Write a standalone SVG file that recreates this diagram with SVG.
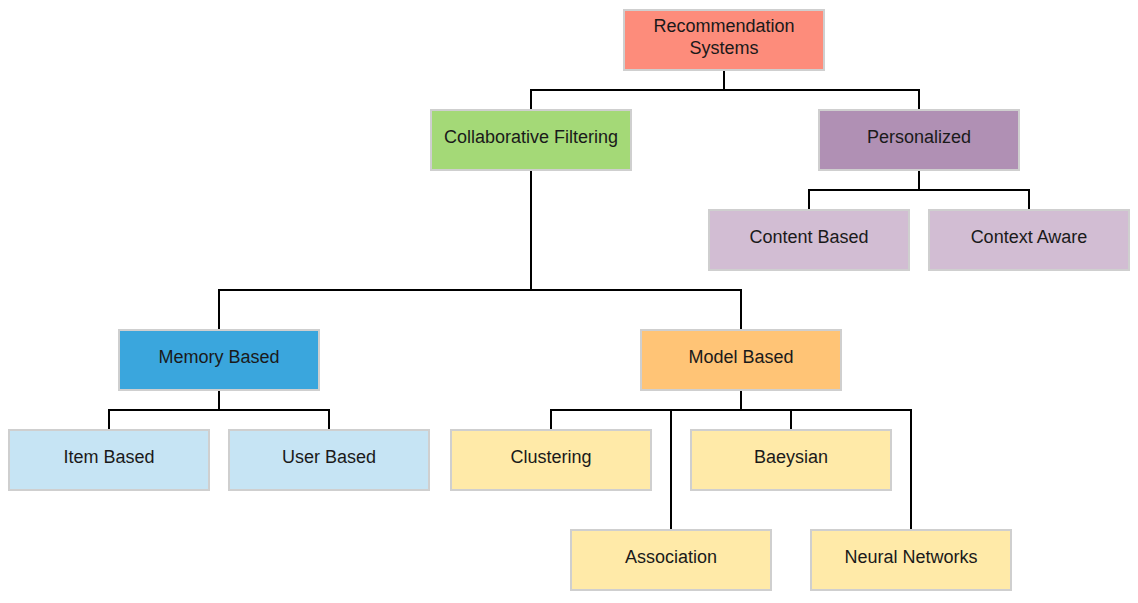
<svg xmlns="http://www.w3.org/2000/svg" width="1138" height="603" viewBox="0 0 1138 603">
<style>
rect.n{stroke:#cfcfcf;stroke-width:2}
text{font-family:"Liberation Sans",Arial,sans-serif;font-size:18px;fill:#1a1a1a;text-anchor:middle;dominant-baseline:central}
.c path{fill:none;stroke:#000;stroke-width:2}
.root{fill:#fd8c7b}.cf{fill:#a4d977}.pers{fill:#b090b4}.pl{fill:#d2bdd3}.mem{fill:#3aa6dd}.ml{fill:#c6e4f4}.mod{fill:#ffc476}.yl{fill:#ffeaa8}
</style>
<rect width="1138" height="603" fill="#fff"/>
<g class="c">
<path d="M724 70V90M531 110V90H919V110"/>
<path d="M531 170V290M219 330V290H741V330"/>
<path d="M919 170V190M809 210V190H1029V210"/>
<path d="M219 390V410M109 430V410H329V430"/>
<path d="M741 390V410M551 430V410H911V530M671 410V530M791 410V430"/>
</g>
<g id="n-root"><rect class="n root" x="624" y="10" width="200" height="60"/><text x="724" y="26">Recommendation</text><text x="724" y="48">Systems</text></g>
<g id="n-cf"><rect class="n cf" x="431" y="110" width="200" height="60"/><text x="531" y="137">Collaborative Filtering</text></g>
<g id="n-pers"><rect class="n pers" x="819" y="110" width="200" height="60"/><text x="919" y="137">Personalized</text></g>
<g id="n-content"><rect class="n pl" x="709" y="210" width="200" height="60"/><text x="809" y="237">Content Based</text></g>
<g id="n-context"><rect class="n pl" x="929" y="210" width="200" height="60"/><text x="1029" y="237">Context Aware</text></g>
<g id="n-memory"><rect class="n mem" x="119" y="330" width="200" height="60"/><text x="219" y="357">Memory Based</text></g>
<g id="n-model"><rect class="n mod" x="641" y="330" width="200" height="60"/><text x="741" y="357">Model Based</text></g>
<g id="n-item"><rect class="n ml" x="9" y="430" width="200" height="60"/><text x="109" y="457">Item Based</text></g>
<g id="n-user"><rect class="n ml" x="229" y="430" width="200" height="60"/><text x="329" y="457">User Based</text></g>
<g id="n-clustering"><rect class="n yl" x="451" y="430" width="200" height="60"/><text x="551" y="457">Clustering</text></g>
<g id="n-baeysian"><rect class="n yl" x="691" y="430" width="200" height="60"/><text x="791" y="457">Baeysian</text></g>
<g id="n-association"><rect class="n yl" x="571" y="530" width="200" height="60"/><text x="671" y="557">Association</text></g>
<g id="n-neural"><rect class="n yl" x="811" y="530" width="200" height="60"/><text x="911" y="557">Neural Networks</text></g>
</svg>
